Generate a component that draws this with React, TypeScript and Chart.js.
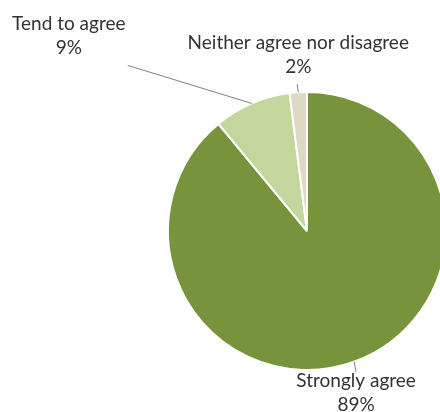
import React, { useEffect, useRef } from "react";
import { Chart, registerables } from "chart.js";

Chart.register(...registerables);

const categories = ["Strongly agree", "Tend to agree", "Neither agree nor disagree"];
const values = [89, 9, 2];
const valueLabels = ["89%", "9%", "2%"];
const colors = ["#77933C", "#C3D69B", "#DDD9C3"];

// label placement relative to each slice's outer mid-point
const labelLayout = [
  { lx: 2, ly: 10, tx: 2, ty: 19 },
  { lx: -124, ly: -38, tx: -183, ty: -80 },
  { lx: -1, ly: -8, tx: 0, ty: -49 },
];

const FONT = "19px Lato, 'Open Sans', sans-serif";

const labelPlugin = {
  id: "pieLabels",
  afterDraw(chart: any) {
    const ctx = chart.ctx;
    const meta = chart.getDatasetMeta(0);
    ctx.save();
    ctx.font = FONT;
    ctx.fillStyle = "#333333";
    ctx.textAlign = "center";
    ctx.textBaseline = "middle";
    meta.data.forEach((arc: any, i: number) => {
      const { x, y, startAngle, endAngle, outerRadius } = arc.getProps(
        ["x", "y", "startAngle", "endAngle", "outerRadius"],
        true
      );
      const mid = (startAngle + endAngle) / 2;
      const ax = x + Math.cos(mid) * outerRadius;
      const ay = y + Math.sin(mid) * outerRadius;
      const L = labelLayout[i];
      ctx.strokeStyle = "#7f7f7f";
      ctx.lineWidth = 1;
      ctx.beginPath();
      ctx.moveTo(ax, ay);
      ctx.lineTo(ax + L.lx, ay + L.ly);
      ctx.stroke();
      const tx = ax + L.tx;
      const ty = ay + L.ty;
      ctx.fillText(categories[i], tx, ty);
      ctx.fillText(valueLabels[i], tx, ty + 24);
    });
    ctx.restore();
  },
};

export default function App() {
  const ref = useRef<HTMLCanvasElement>(null);
  useEffect(() => {
    const chart = new Chart(ref.current!, {
      type: "pie",
      data: {
        labels: categories,
        datasets: [
          {
            data: values,
            backgroundColor: colors,
            borderColor: "#ffffff",
            borderWidth: 2,
          },
        ],
      },
      options: {
        responsive: false,
        animation: false,
        layout: { padding: { left: 167, right: 13, top: 91, bottom: 41 } },
        plugins: { legend: { display: false }, tooltip: { enabled: false } },
      },
      plugins: [labelPlugin],
    });
    return () => chart.destroy();
  }, []);
  return (
    <div style={{ position: "absolute", left: 0, top: 0, width: 440, height: 412, overflow: "hidden", background: "#fff" }}>
      <canvas ref={ref} width={460} height={412} style={{ width: 460, height: 412 }} />
    </div>
  );
}
